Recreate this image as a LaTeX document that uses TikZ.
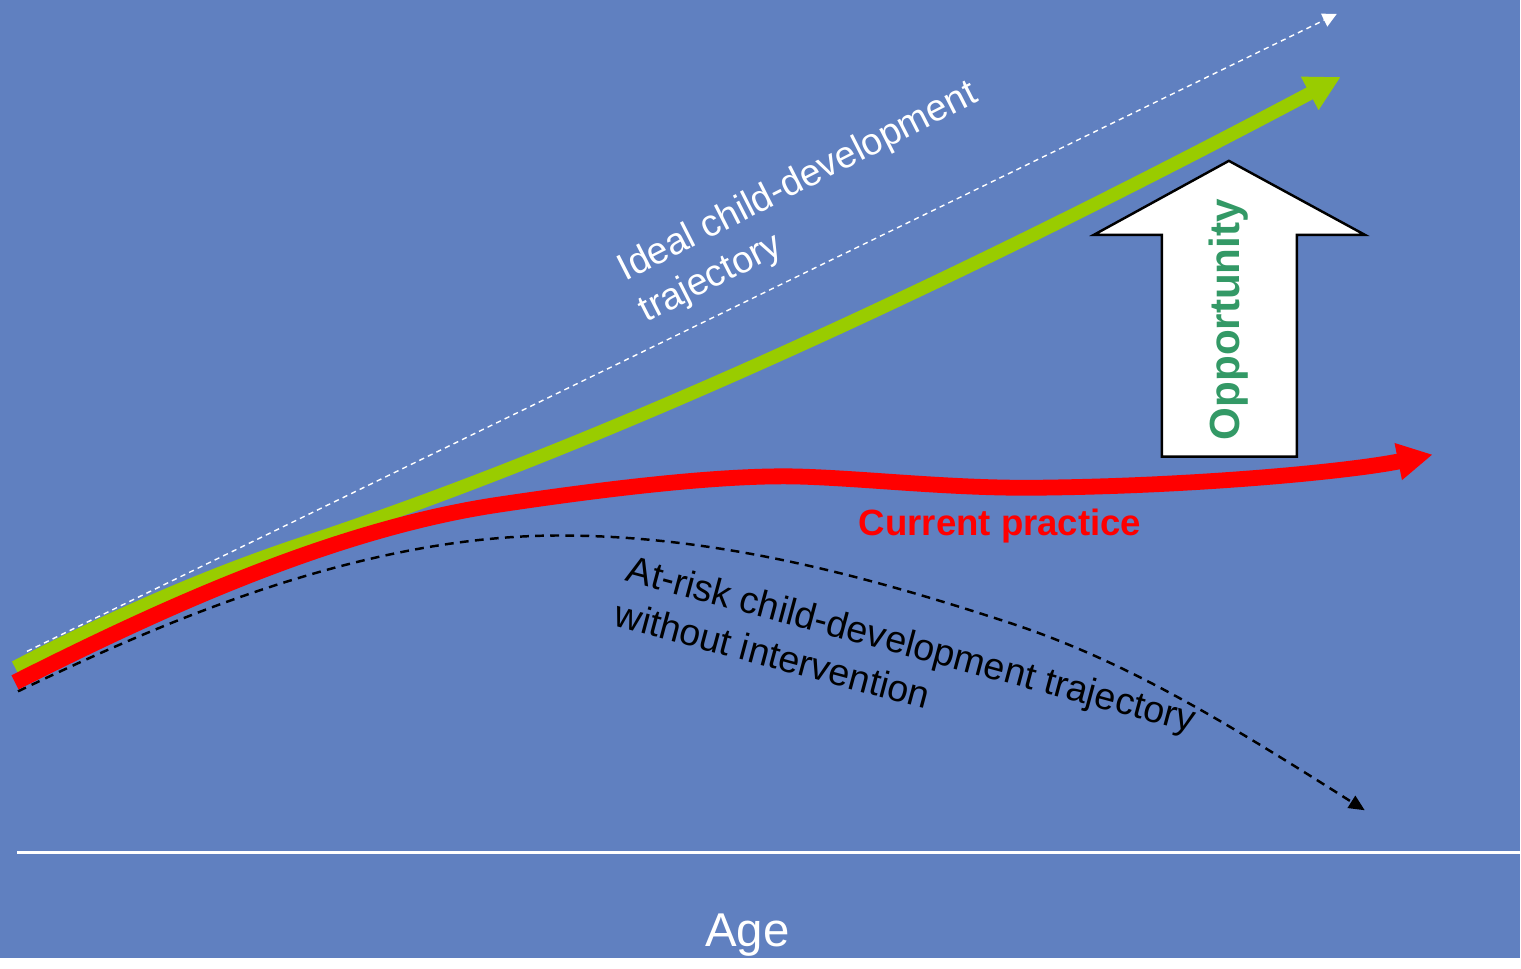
\documentclass[tikz,border=0pt]{standalone}
\usepackage{fontspec}
\setmainfont{Liberation Sans}
\usetikzlibrary{arrows.meta}

\definecolor{bgblue}{RGB}{96,128,192}
\definecolor{limegreen}{RGB}{153,204,0}
\definecolor{oppgreen}{RGB}{51,153,102}

\begin{document}
\begin{tikzpicture}[x=0.01cm, y=-0.01cm,
	bigtip/.style={-{Triangle[length=10pt,width=10pt]}},
	labeltext/.style={inner sep=0pt, align=left, anchor=north west, font=\fontsize{10.7}{13.2}\selectfont}]
	%\draw[help lines] (0,0) grid[step=100] (1521,959);
	\fill[bgblue] (0,0) rectangle (1521,959);
	% age axis
	\coordinate (axl) at (17,853);
	\coordinate (axr) at (1521,853);
	\draw[white, line width=0.8pt] (axl) -- (axr);
	\node[white, font=\fontsize{13.5}{16}\selectfont] (age) at (748,936) {Age};
	% ideal trajectory
	\coordinate (i0) at (27,652);
	\coordinate (i1) at (1338,14);
	\draw[white, line width=0.4pt, dash pattern=on 1.5pt off 1.2pt, -{Triangle[length=4pt,width=4pt]}] (i0) -- (i1);
	\node[labeltext, white, rotate=27] (ideal) at (613,257) {Ideal child-development\\trajectory};
	% at-risk trajectory
	\coordinate (a0) at (18,692);
	\coordinate (a1) at (1366,811);
	\draw[black, line width=0.7pt, dash pattern=on 2.5pt off 1.8pt, -{Triangle[length=4.5pt,width=4pt]}]
		(a0) .. controls (160,624) and (360,536) .. (560,536)
		.. controls (720,536) and (870,578) .. (1000,620)
		.. controls (1120,658) and (1216,716) .. (a1);
	\node[labeltext, black, rotate=-15] (atrisk) at (632,554) {At-risk child-development trajectory\\without intervention};
	% with intervention
	\coordinate (g0) at (15,668);
	\coordinate (g1) at (1342,77);
	\draw[limegreen, line width=3.8pt, bigtip]
		(g0) .. controls (115,616) and (210,575) .. (300,545)
		.. controls (650,430) and (1042,236) .. (g1);
	% current practice
	\coordinate (r0) at (15,683);
	\coordinate (r1) at (1434,455);
	\draw[red, line width=4.5pt, bigtip]
		(r0) .. controls (150,615) and (330,530) .. (500,505)
		.. controls (620,487) and (730,475) .. (800,477)
		.. controls (870,479) and (960,490) .. (1050,488)
		.. controls (1200,486) and (1350,472) .. (r1);
	\node[red, font=\bfseries\fontsize{10.4}{12}\selectfont] (current) at (1001,527) {Current practice};
	% opportunity arrow
	\draw[fill=white, line width=0.7pt] (1230,161) -- (1366,235) -- (1298,235) -- (1298,457)
		-- (1163,457) -- (1163,235) -- (1095,235) -- cycle;
	\node[oppgreen, rotate=90, font=\bfseries\fontsize{12}{14}\selectfont] (opp) at (1230,320) {Opportunity};
\end{tikzpicture}
\end{document}
